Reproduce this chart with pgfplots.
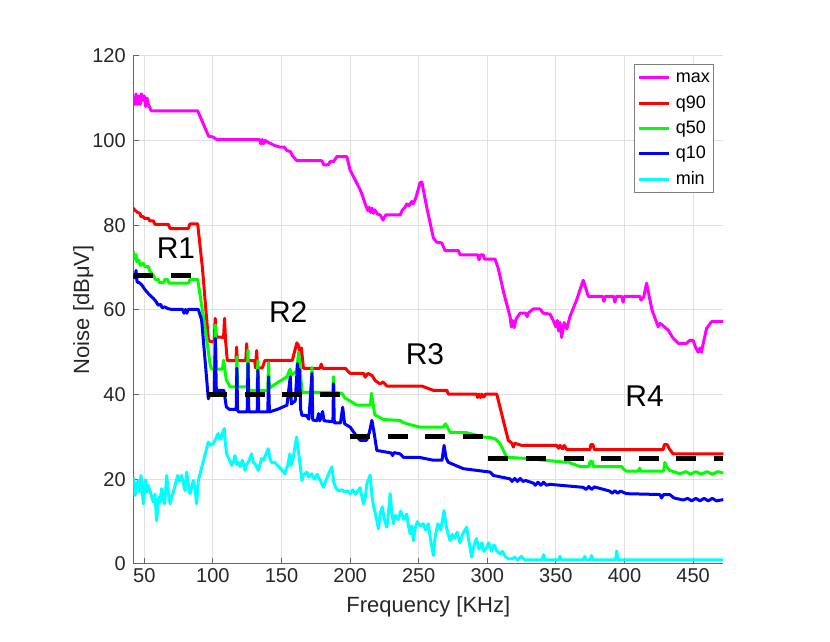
\documentclass[border=0pt]{standalone}
\usepackage{fontspec}
\setmainfont{Liberation Sans}
\usepackage{pgfplots}
\pgfplotsset{compat=1.18}
\definecolor{mmag}{rgb}{1,0,1}
\definecolor{mred}{rgb}{1,0,0}
\definecolor{mgreen}{rgb}{0,1,0}
\definecolor{mblue}{rgb}{0,0,1}
\definecolor{mcyan}{rgb}{0,1,1}
\definecolor{axgray}{rgb}{0.15,0.15,0.15}
\definecolor{gridgray}{rgb}{0.88,0.88,0.88}
\begin{document}
\begin{tikzpicture}
\path[use as bounding box] (-66.65pt,-39pt) rectangle (348.35pt,282pt);
\begin{axis}[
  at={(0pt,0pt)}, anchor=south west,
  scale only axis, width=295pt, height=254.15pt,
  xmin=42, xmax=472, ymin=0, ymax=120,
  xtick={50,100,...,450}, ytick={0,20,...,120},
  axis lines*=left,
  axis line style={black!60, line width=0.5pt},
  tick style={black!60, line width=0.5pt},
  major tick length=3pt,
  tick align=inside,
  grid=major,
  major grid style={gridgray, line width=0.5pt},
  /pgf/number format/assume math mode=true,
  ticklabel style={font=\fontsize{10}{12}\selectfont, text=axgray},
  xticklabel style={inner sep=0pt, yshift=-2pt},
  yticklabel style={inner sep=0pt, xshift=-3.6pt},
  xlabel={Frequency [KHz]}, ylabel={Noise [dBμV]},
  label style={font=\fontsize{11}{13}\selectfont, text=axgray},
  xlabel style={at={(axis description cs:0.5,-0.0846)}, anchor=center},
  ylabel style={at={(axis description cs:-0.0847,0.5)}, anchor=center},
  every axis plot/.append style={line width=1.5pt, line join=round},
  legend style={at={(0.9847,0.983)}, anchor=north east, draw=black!50, line width=0.5pt, fill=white,
    font=\fontsize{9}{10}\selectfont, inner xsep=1.5pt, inner ysep=1.5pt, row sep=2.67pt,
    nodes={inner sep=0.5pt, text height=7pt, text depth=2pt},
    /tikz/every odd column/.append style={column sep=2pt}},
  legend cell align=left,
  legend image code/.code={\draw[#1, line width=1.5pt] (0pt,0pt) -- (15pt,0pt);},
]
% max
\addplot[mmag] coordinates {
(42,110) (43,108.5) (44,111) (45,108.5) (46,110.5) (47,108.5) (48,111) (49,109.5) (50,110.5) (51,108) (52,110) (53,108.5) (55,107)
(88.9,107) (96.9,101) (100,100.8) (103,100.2) (134,100.2) (135,99.2) (136,100.2) (137,99.2) (138,100) (140,99.6) (145,98.8)
(149,98.4) (152,98.4) (154,97.6) (156.4,97.4) (158,96.4) (161.2,95.2) (165,95.2) (179.4,95.2) (181,94.2) (184,94.2) (185.5,95)
(188,95) (190.4,96.2) (197.6,96.2) (200,93) (204,90.5) (207.3,88.4) (209,87) (210,86) (211,85) (213,83.4) (214,84.2) (215,83)
(216,84) (217,82.8) (218,83.6) (220,82.6) (222,82.4) (224,81.2) (226,82.4) (236.5,82.4) (238,83.5) (240,84.2) (241.3,85)
(243,84.6) (245,85.6) (246,85) (248,86.5) (251,90) (252.3,90.2) (256,84) (260.7,77) (263,76) (266.8,75.8) (269.2,74)
(278.9,74) (280.2,73) (293,73) (294,71.8) (295,73) (297,73) (298,72) (305.6,72) (308,69.8) (312,64) (316.6,58.4) (317.5,56)
(318.5,57.5) (319.5,55.8) (321,57.8) (323.8,59.2) (328,59.2) (329,58.4) (330,59.3) (333.5,60.2) (338.4,60.2) (340.8,59.2)
(345.7,59) (348,57.5) (350,56) (351,57.5) (352,55) (353,57) (354.2,53.5) (356,57) (358,55.5) (360.2,58.4) (365.1,62.3)
(369.9,67) (373.6,63.2) (384,63.2) (385,62) (386,63.2) (392,63.2) (393,61.8) (394,63.2) (398,63.2) (399,61.8) (400,63.2)
(411.2,63.2) (412,62.3) (414,63) (416.1,66.3) (420,60) (424.6,56) (426,56.8) (429,56) (431.9,55.2) (435,53.5) (439.1,52.1)
(445.2,52.1) (447.6,52.8) (450,52.8) (452,51) (453.7,50) (455,51) (456,50) (459.8,55.6) (463.4,57.2) (472,57.2)
};
\addlegendentry{max}
% q90
\addplot[mred] coordinates {
(42,84) (43,83.6) (45,83) (46.9,82.8) (47.5,82) (49.3,82) (50,81.6) (53,81.6) (54,81) (56.6,81) (57.8,80.2) (67.5,80.2)
(68.8,79.2) (82.1,79.2) (83.3,80.3) (88.9,80.3) (92.3,70.2) (96.7,53) (98.1,52.5) (101,52.5) (101.7,58) (102.4,53.6) (107.8,53.5)
(108.5,58) (109.2,53) (110.5,48) (116.8,48) (117.3,51.2) (117.8,48) (124,48) (124.6,52) (125.2,48) (130.5,48) (131,46.3)
(131.9,50.4) (132.6,46.3) (136,46.3) (138,48.1) (158,48.1) (159,49.5) (161.2,52.2) (162.5,51.5) (163.5,49.5) (164.5,51)
(166,46.2) (178,46.2) (179,47.2) (180,46.2) (196.5,46.2) (200,45) (210,45) (211,44.1) (213,45) (216,44.5) (218.3,43.3)
(221.9,42.5) (224,43) (226.8,42) (252.3,42) (260.7,41) (270.5,41) (271.6,40.1) (292.3,40.1) (293,39.3) (294,40.1) (295,39.3)
(296,40.1) (297.5,39.4) (298.5,40.1) (306.9,40.1) (315.3,29.2) (318,28.5) (319,27.6) (320,28.5) (325.1,28) (350.6,28)
(352,27.3) (353,28) (355,27.2) (356,28) (358,27) (374.8,27) (375.5,28.2) (377,28.2) (378,27) (428.2,27) (429,28.2) (431,28.2)
(433,27) (435.5,26) (472,26)
};
\addlegendentry{q90}
% q50
\addplot[mgreen] coordinates {
(42,73.8) (43,72) (44,73) (44.5,71.4) (46,71.8) (47,70.5) (49.3,71) (50.5,70.2) (53,70.2) (54.2,69) (56.6,68.2) (58,67.2)
(60.2,67.2) (61,66.4) (64,66.4) (65,67.2) (67,67.2) (68,66.3) (82,66.3) (83.5,67.2) (88.9,67.2) (94.2,56) (97.9,47.3) (99,46)
(101.3,46) (101.8,56.4) (102.4,46) (107,46) (107.8,48.1) (109.8,43.4) (112.7,41.8) (117,41.8) (117.5,48.9) (118,41.8)
(125,41.8) (125.6,50.5) (126.2,41) (132.2,41) (132.8,48) (133.4,41) (140,41) (140.6,47.6) (141.2,41.5) (147,42.8) (154,44.2)
(156.2,46) (157,44.6) (161,45.5) (162.5,50) (163.5,47) (164.9,40.5) (171.8,40.5) (172.2,46.4) (172.8,40.5) (187.4,40.5)
(187.9,44.2) (188.4,40.5) (194,40.3) (196.2,39.2) (200,38.5) (204.7,37.5) (214.8,37.5) (215.6,40.3) (218,35.2) (221,34.7)
(224.3,34.1) (236.5,33.9) (238,33.5) (241.3,33.1) (251,32.3) (268,32.3) (269.5,33.1) (271,32.3) (272.9,31.1) (285,31)
(297.1,30) (303,29.8) (306,29.5) (309.3,28.4) (314.2,25.2) (328.7,24.9) (357.9,24) (359,24.5) (360,23.9) (367.5,23) (374,23)
(375,24.2) (376.5,24.2) (377.5,23) (398,23) (399,22.5) (401.5,21.9) (410,21.9) (411,22.6) (412,21.9) (428.5,21.9) (429.4,24)
(430.5,23) (433,22.1) (440.4,21.3) (445,21.8) (448,21.2) (452,21.8) (456,21.2) (460,21.8) (464,21.2) (468,21.8) (472,21.5)
};
\addlegendentry{q50}
% q10
\addplot[mblue] coordinates {
(42,68) (43.3,67.5) (44,69.3) (44.8,66.5) (46,66.5) (48.1,65.9) (50,65) (51.7,64.3) (54,63.5) (56.6,62.7) (58,62.2) (60.2,61.1)
(62,61.3) (63,60.5) (65.1,60.7) (67,60.3) (69.9,60.1) (78,60.1) (79,59.2) (80,60.1) (81,59.2) (82,60.1) (89.4,60.1) (91.8,57.6)
(96.7,39) (97.8,40.2) (101,40.2) (101.8,53.3) (102.5,41) (108,41) (109.8,37.1) (112,36.5) (117,36.5) (117.5,46.2) (118,36.2)
(119,35.9) (125,35.9) (125.6,47.3) (126.2,35.9) (132.3,35.9) (132.8,45.8) (133.4,35.9) (140,35.9) (140.6,44.2) (141.2,35.9)
(147,36.5) (154,37.5) (156.4,44.2) (157.2,37.8) (160,38.5) (161.7,47.3) (162.5,40) (163,46) (164,36.5) (164.9,35.1) (168,35.1)
(170,34.2) (172.2,45) (172.8,34) (176,33.8) (177,35.5) (178,33.8) (180,36) (181,33.8) (187.5,33.6) (187.9,42.6) (188.5,33.3)
(193,33.3) (194.6,37) (196,33.1) (200.1,32.3) (204,30.5) (207.3,29.2) (212,29.2) (214,31) (215.9,33.9) (217.5,31) (219.5,26.8)
(226.8,26.4) (230,26.2) (231,25.6) (232,26.3) (236.5,26) (238.8,25.2) (250,25.2) (260.7,24.5) (267,24.5) (268.5,28) (270,25)
(271.6,24) (282.6,22.5) (302,21.7) (304.4,20.9) (316.6,20.1) (318,19.5) (320,20.2) (322,19.5) (324,20.2) (326,19.5) (328,19.7)
(333.5,19.1) (335,18.6) (337,19.3) (339,18.6) (341,19.3) (343,18.6) (345.7,18.8) (369.9,18.1) (372,17.6) (374,18.3) (376,17.6)
(378,18.2) (389.4,17.2) (391,16.7) (393,17.3) (395,16.7) (397,17.2) (401.5,16.6) (425.8,16.4) (427,15.6) (428.5,16.4) (433,16.4)
(436,15.6) (442.8,15.1) (446,15.5) (449,14.9) (452,15.5) (455,14.9) (458,15.5) (461,14.9) (464,15.5) (467,14.9) (472,15.2)
};
\addlegendentry{q10}
% min
\addplot[mcyan] coordinates {
(42,20.5) (43.3,16.2) (44.5,19) (45.7,19.7) (46.5,17) (47.6,20.9) (48.5,17.5) (49.3,14.2) (50.2,18) (51,19.9) (52,17) (53,18.5)
(54.2,17.3) (55.3,16) (56.6,14.6) (57.8,16.5) (59,10.2) (60,14) (60.7,15.8) (61.6,14.5) (62.6,17.8) (63.5,16) (64.6,14.2)
(65.5,17) (66.3,20.9) (67.5,17) (68.8,14.2) (70,16) (71.2,16.9) (72.8,19) (74.3,20.9) (75.5,19.5) (77.2,20.9) (78.5,19)
(79.7,17.3) (80.9,21.7) (82,19) (83.3,16.6) (84.5,18) (85.7,19.7) (87,18) (88.1,14.2) (89.4,19.7) (96.7,28.8) (98.5,28)
(100.3,28.4) (102,29.5) (103.9,30.8) (105,29.5) (105.9,29.6) (107,31) (108.3,32) (109,29) (110,26) (111.5,25) (113.6,23.3)
(115,24) (116.1,25.6) (117.3,23.5) (118.5,24) (120,23) (121.5,24.5) (123.4,22.1) (124.5,23.5) (125.8,24) (127,25) (128.2,26)
(129.5,24) (131,23.5) (133.1,22.1) (134.3,23.5) (135.5,24.9) (137,24.5) (138.5,25.8) (140.3,27.2) (141.5,25) (142.7,24)
(145,24) (147,23.3) (150,22.3) (152.5,21.3) (153.5,22.5) (154.5,23.2) (156.1,26) (157,23.3) (158.5,25) (161,30) (163,25)
(164.9,19.7) (166,21) (168.5,21.7) (170,20.5) (172,21.3) (174,20) (176,21.2) (178,19.9) (180.6,18.1) (182,19.5) (184,21)
(186.7,22.9) (188,19.5) (189.5,18) (191.5,17.3) (194,17.5) (196,17) (198,17.3) (200.1,16.6) (202,17.5) (204,16.5) (207.3,18)
(209.7,14.2) (211,15.5) (212.2,18.9) (214.6,21) (216,16) (217,13.8) (218,12.5) (219.5,10.2) (220.7,8.3) (222,12) (223.5,13.5)
(225,10.5) (226.8,8.7) (228,12) (229.2,16.6) (230.5,12) (231.6,9.5) (233,11.5) (235,10.5) (237,12.5) (239,10.5) (241.3,11.8)
(242.5,9) (243.8,7.1) (245,9) (246.1,5.5) (247.5,8.5) (249,10) (251,9) (253.4,9.5) (255,8) (257,9.5) (258.5,6) (260.7,2)
(262,6.5) (264,9.5) (266,8) (268.5,12.6) (270,9) (271.5,7) (272.9,5.5) (274.5,7) (276,6) (278,7.5) (280,5) (282,7) (285,8.7)
(286.5,5.5) (288.7,1.6) (290,4) (292,6) (294,3.5) (296,5) (297.5,3) (299.6,3.9) (301,5) (303,3) (305,4.5) (306.9,3.1)
(309.3,2.4) (311,3) (313,1.8) (315.3,1.2) (318,1.2) (320,1.6) (322,1) (325,1.8) (327,1) (340,1) (341,2.2) (342,1) (352,1)
(353,1.8) (354,1) (370,1) (371,1.8) (372,1) (375,1) (376,2) (377,1) (393.5,1) (394.3,3.1) (395,1) (472,1)
};
\addlegendentry{min}
% region levels
\addplot[black, line width=2.5pt, dash pattern=on 10pt off 8.8pt, forget plot] coordinates {(42,68) (90,68)};
\addplot[black, line width=2.5pt, dash pattern=on 10pt off 8.8pt, forget plot] coordinates {(95.7,40) (193,40)};
\addplot[black, line width=2.5pt, dash pattern=on 10pt off 8.8pt, forget plot] coordinates {(200,30) (297,30)};
\addplot[black, line width=2.5pt, dash pattern=on 10pt off 8.8pt, forget plot] coordinates {(300.8,25) (472,25)};
\node[font=\fontsize{15}{18}\selectfont] at (axis cs:73.1,74.6) {R1};
\node[font=\fontsize{15}{18}\selectfont] at (axis cs:154.9,59.4) {R2};
\node[font=\fontsize{15}{18}\selectfont] at (axis cs:254.6,49.5) {R3};
\node[font=\fontsize{15}{18}\selectfont] at (axis cs:414.6,39.6) {R4};
\end{axis}
\end{tikzpicture}
\end{document}
